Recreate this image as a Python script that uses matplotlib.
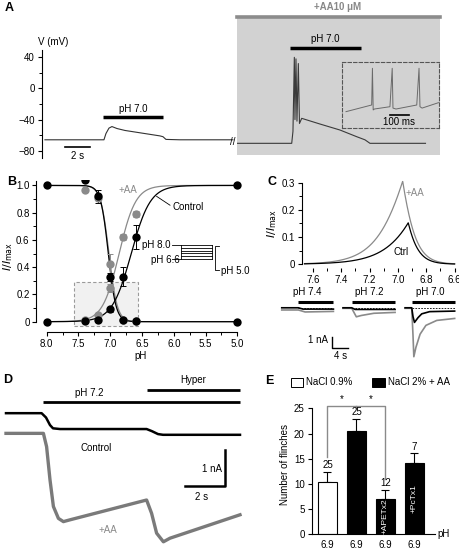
import numpy as np
import matplotlib
matplotlib.use("Agg")
import matplotlib.pyplot as plt
from matplotlib.patches import Rectangle

plt.rcParams['font.family'] = ['Liberation Sans', 'DejaVu Sans']
plt.rcParams['font.size'] = 7
plt.rcParams['axes.linewidth'] = 0.8
plt.rcParams['xtick.major.width'] = 0.8
plt.rcParams['ytick.major.width'] = 0.8
plt.rcParams['xtick.minor.width'] = 0.7
plt.rcParams['ytick.minor.width'] = 0.7
plt.rcParams['xtick.major.size'] = 3
plt.rcParams['ytick.major.size'] = 3
plt.rcParams['xtick.minor.size'] = 2
plt.rcParams['ytick.minor.size'] = 2
plt.rcParams['xtick.major.pad'] = 2
plt.rcParams['ytick.major.pad'] = 2

GRAY = '#8a8a8a'

# ---------------- data ----------------
# A: membrane potential (s, mV)
a_ctrl_t = [0.26, 4.98, 5.14, 5.38, 5.62, 6.02, 6.66, 7.86, 9.06, 9.46, 9.7, 9.94, 11.06, 15.3]
a_ctrl_v = [-66, -66, -58, -51, -49, -51.5, -54, -57, -60, -61, -62, -65.5, -66, -66]
a_aa_t = [0, 4.4, 4.5, 4.61, 4.66, 4.74, 4.82, 4.93, 5.02, 5.2, 6.66, 8.26, 9.6, 10.26, 10.66, 15.1]
a_aa_v = [-70.5, -70.5, -55, 40, -40, 38, -42, 32, -45, -38.4, -45.7, -53.4, -62, -66, -70.5, -70.5]
a_ins_t = [21, 156, 160, 164, 170, 252, 264, 268, 284, 393, 405, 410, 421, 507]   # ms
a_ins_v = [-63.7, -49.3, 30, -60, -58, -53, 30, -56, -58, -49.3, 30, -53, -56, -44.3]

# B: pH dependence of activation / steady-state desensitization
b_ph = [8.0, 7.4, 7.2, 7.0, 6.8, 6.6, 5.0]
b_ctrl_act = [0.0, 0.005, 0.015, 0.09, 0.33, 0.62, 1.0]
b_ctrl_act_err = [0, 0, 0, 0.02, 0.07, 0.09, 0]
b_ctrl_inact = [1.0, 1.04, 0.92, 0.33, 0.01, 0.005, 0.0]
b_ctrl_inact_err = [0, 0, 0.05, 0.03, 0, 0, 0]
b_aa_ph = [7.4, 7.2, 7.0, 6.8, 6.6]
b_aa_act = [0.01, 0.05, 0.25, 0.62, 0.79]
b_aa_act_err = [0, 0, 0.03, 0.02, 0.02]
b_aa_inact = [0.97, 0.91, 0.42, 0.01, 0.005]
b_aa_inact_err = [0, 0.02, 0.08, 0, 0]
# Boltzmann fit parameters (pH50, slope)
fit_ctrl_act = (6.67, 0.15)
fit_ctrl_inact = (7.03, 0.06)
fit_aa_act = (6.86, 0.13)
fit_aa_inact = (7.02, 0.065)
prot_levels = [8.0, 7.8, 7.6, 7.4, 7.2, 7.0, 6.6]

# C: current traces (s, nA)
c_labels = ['pH 7.4', 'pH 7.2', 'pH 7.0']
c_bar = [(4.9, 13.3), (17.7, 28.1), (32.1, 42.4)]
c_ctrl_t = [[0.9, 4.9, 6.0, 13.3],
            [15.6, 17.7, 18.5, 28.1],
            [30.5, 32.1, 32.4, 32.76, 33.6, 34.5, 36.4, 42.4]]
c_ctrl_i = [[0, 0, -0.12, -0.12],
            [0, 0, -0.15, -0.15],
            [0, 0, -0.8, -1.33, -0.9, -0.55, -0.35, -0.3]]
c_aa_t = [[0.9, 4.9, 6.5, 13.3],
          [15.6, 17.7, 18.8, 20.0, 23.0, 28.1],
          [30.5, 32.1, 32.4, 32.6, 33.1, 34.1, 35.5, 38.1, 42.4]]
c_aa_i = [[-0.2, -0.2, -0.38, -0.33],
          [-0.05, -0.05, -0.82, -0.7, -0.5, -0.42],
          [-0.05, -0.05, -2.5, -4.45, -3.6, -2.4, -1.6, -1.15, -0.97]]

# D: currents at pH 7.2 then hyperosmolar (s, nA)
d_ctrl_t = [0.3, 2.08, 2.3, 2.5, 2.65, 3.0, 7.33, 7.6, 7.9, 8.15, 12.0]
d_ctrl_i = [0, 0, -0.12, -0.33, -0.42, -0.44, -0.44, -0.5, -0.58, -0.6, -0.6]
d_aa_t = [0.3, 2.17, 2.33, 2.5, 2.67, 2.92, 3.17, 3.5, 7.33, 7.58, 7.83, 8.17, 8.5, 12.0]
d_aa_i = [-0.56, -0.56, -0.93, -1.85, -2.59, -2.92, -3.01, -2.96, -2.41, -2.78, -3.33, -3.57, -3.47, -2.82]

# E: number of flinches
e_mean = [10.3, 20.4, 7.1, 14.1]
e_sem = [2.1, 2.5, 1.7, 2.0]
e_n = ['25', '25', '12', '7']
e_colors = ['white', 'black', 'black', 'black']
e_inside = ['', '', '+APETx2', '+PcTx1']
e_ph = ['6.9', '6.9', '6.9', '6.9']

W, H = 460, 549
fig = plt.figure(figsize=(W / 100, H / 100), dpi=100)


def add_ax(x0, y0, x1, y1):
    return fig.add_axes([x0 / W, 1 - y1 / H, (x1 - x0) / W, (y1 - y0) / H])


def ftext(x, y, s, **kw):
    fig.text(x / W, 1 - y / H, s, **kw)


def act(ph, p):
    return 1 / (1 + np.exp((ph - p[0]) / p[1]))


def inact(ph, p):
    return 1 / (1 + np.exp((p[0] - ph) / p[1]))


for lab, x, y in [('A', 5, 8), ('B', 7, 182), ('C', 268, 182), ('D', 3, 380), ('E', 265, 381)]:
    ftext(x, y, lab, fontsize=9, fontweight='bold', ha='left', va='center')

# ---------------- A ----------------
axa = add_ax(41.7, 16.7, 236.7, 158)
axa.set_xlim(0, 15.6)
axa.set_ylim(-89.4, 92.2)
for s in ['top', 'right', 'bottom']:
    axa.spines[s].set_visible(False)
axa.spines['left'].set_bounds(-89.4, 49.4)
axa.set_xticks([])
axa.set_yticks([40, 0, -40, -80])
axa.set_yticks([20, -20, -60], minor=True)
axa.plot(a_ctrl_t, a_ctrl_v, color='#333333', lw=0.8)
axa.plot([4.9, 9.7], [-37, -37], color='black', lw=2.5, solid_capstyle='butt')
axa.text(7.3, -33, 'pH 7.0', ha='center', va='bottom')
axa.plot([1.86, 3.86], [-75.6, -75.6], color='black', lw=1.2)
axa.text(2.86, -80, '2 s', ha='center', va='top')
axa.text(0.9, 59.7, 'V (mV)', ha='center', va='center')
ftext(233, 142, '//', ha='center', va='center', fontsize=7)

axa2 = add_ax(236.7, 16.7, 440, 155)
axa2.set_facecolor('#d2d2d2')
axa2.set_xlim(0, 16.26)
axa2.set_ylim(-85.5, 92.2)
for s in ['left', 'right', 'bottom']:
    axa2.spines[s].set_visible(False)
axa2.spines['top'].set_color('#8c8c8c')
axa2.spines['top'].set_linewidth(2.6)
axa2.set_xticks([])
axa2.set_yticks([])
axa2.plot(a_aa_t, a_aa_v, color='#3a3a3a', lw=0.8)
axa2.plot([4.26, 9.92], [51.6, 51.6], color='black', lw=2.5, solid_capstyle='butt')
axa2.text(7.1, 57, 'pH 7.0', ha='center', va='bottom')
ftext(338, 7, '+AA10 \u03bcM', ha='center', va='center', color='#888888', fontweight='bold')

axin = add_ax(342, 62, 439, 128)
axin.set_facecolor('none')
for s in axin.spines.values():
    s.set_linestyle((0, (3, 2)))
    s.set_color('#555555')
    s.set_linewidth(0.8)
axin.set_xticks([])
axin.set_yticks([])
axin.set_xlim(0, 510)
axin.set_ylim(-99, 43.6)
axin.plot(a_ins_t, a_ins_v, color='#6a6a6a', lw=0.7)
axin.plot([252, 352], [-70.9, -70.9], color='black', lw=1.2)
axin.text(300, -76, '100 ms', ha='center', va='top')

# ---------------- B ----------------
axb = add_ax(36.5, 180, 245, 332.3)
axb.set_xlim(8.16, 4.88)
axb.set_ylim(-0.078, 1.04)
for s in ['top', 'right']:
    axb.spines[s].set_visible(False)
axb.spines['left'].set_bounds(-0.005, 1.03)
axb.spines['bottom'].set_bounds(8.0, 5.0)
axb.set_xticks(np.arange(8.0, 4.99, -0.5))
axb.set_xticklabels([f'{v:.1f}' for v in np.arange(8.0, 4.99, -0.5)])
axb.set_xticks(np.arange(8.0, 4.99, -0.25), minor=True)
axb.set_yticks([0, 0.2, 0.4, 0.6, 0.8, 1.0])
axb.set_yticklabels(['0', '0.2', '0.4', '0.6', '0.8', '1.0'])
axb.set_yticks(np.arange(0.1, 1.0, 0.2), minor=True)
axb.set_xlabel('pH', labelpad=1)
axb.set_ylabel(r'$I/I_{\rm max}$', fontsize=8)
axb.yaxis.set_label_coords(-0.105, 0.5)

axb.add_patch(Rectangle((7.57, -0.032), 6.56 - 7.57, 0.325, facecolor='#f1f1f1',
                        edgecolor='#9a9a9a', lw=0.8, ls=(0, (3, 2)), zorder=0))
ph_fit = np.linspace(8.0, 5.0, 400)
axb.plot(ph_fit, act(ph_fit, fit_aa_act), color=GRAY, lw=0.9)
axb.plot(ph_fit, inact(ph_fit, fit_aa_inact), color=GRAY, lw=0.9)
axb.plot(ph_fit, act(ph_fit, fit_ctrl_act), color='black', lw=0.9)
axb.plot(ph_fit, inact(ph_fit, fit_ctrl_inact), color='black', lw=0.9)
ek = dict(fmt='o', ms=6, capsize=2, elinewidth=0.7, capthick=0.7, mec='none')
axb.errorbar(b_aa_ph, b_aa_act, yerr=b_aa_act_err, color=GRAY, ecolor=GRAY, **ek)
axb.errorbar(b_aa_ph, b_aa_inact, yerr=b_aa_inact_err, color=GRAY, ecolor=GRAY, **ek)
axb.errorbar(b_ph, b_ctrl_act, yerr=b_ctrl_act_err, color='black', ecolor='black', **ek)
axb.errorbar(b_ph, b_ctrl_inact, yerr=b_ctrl_inact_err, color='black', ecolor='black', **ek)
axb.text(6.72, 0.97, '+AA', color=GRAY, ha='center', va='center')
axb.text(6.02, 0.845, 'Control', ha='left', va='center')
axb.plot([6.27, 6.06], [0.92, 0.855], color='black', lw=0.6)

# voltage protocol inset
top_y, bot_y = 0.563, 0.46
lev_y = np.linspace(top_y, bot_y, len(prot_levels) - 1)
for i, y in enumerate(lev_y):
    x0 = 6.03 if i in (0, len(lev_y) - 1) else 5.885
    axb.plot([x0, 5.40], [y, y], color='black', lw=0.6)
axb.plot([5.885, 5.885], [top_y, bot_y], color='black', lw=0.6)
axb.plot([5.40, 5.40], [top_y, bot_y], color='black', lw=0.6)
axb.plot([5.29, 5.35, 5.35, 5.29], [0.558, 0.558, 0.38, 0.38], color='black', lw=0.6)
axb.text(6.05, top_y, f'pH {prot_levels[0]:.1f}', ha='right', va='center')
axb.text(5.90, bot_y - 0.01, f'pH {prot_levels[-1]:.1f}', ha='right', va='center')
axb.text(5.26, 0.37, 'pH 5.0', ha='left', va='center')

# ---------------- C ----------------
axc = add_ax(301.7, 180, 456, 268)
axc.set_xlim(7.68, 6.59)
axc.set_ylim(-0.014, 0.31)
for s in ['top', 'right']:
    axc.spines[s].set_visible(False)
axc.spines['left'].set_bounds(0, 0.3)
axc.spines['bottom'].set_visible(False)
axc.set_yticks([0, 0.1, 0.2, 0.3])
axc.set_yticklabels(['0', '0.1', '0.2', '0.3'])
axc.set_yticks([0.05, 0.15, 0.25], minor=True)
axc.set_xticks(np.arange(7.6, 6.59, -0.2))
axc.set_xticklabels([f'{v:.1f}' for v in np.arange(7.6, 6.59, -0.2)])
axc.set_xticks(np.arange(7.6, 6.59, -0.1), minor=True)
axc.set_ylabel(r'$I/I_{\rm max}$', labelpad=2, fontsize=8)
ph_c = np.linspace(7.66, 6.6, 600)
axc.plot(ph_c, np.minimum(act(ph_c, fit_aa_act), inact(ph_c, fit_aa_inact)), color=GRAY, lw=0.9)
axc.plot(ph_c, np.minimum(act(ph_c, fit_ctrl_act), inact(ph_c, fit_ctrl_inact)), color='black', lw=0.9)
axc.text(6.88, 0.262, '+AA', color=GRAY, ha='center', va='center')
axc.text(6.98, 0.046, 'Ctrl', ha='center', va='center')

axc2 = add_ax(278, 288, 458, 360)
axc2.set_xlim(0, 43.2)
axc2.set_ylim(-4.75, 1.8)
axc2.axis('off')
for k in range(3):
    b0, b1 = c_bar[k]
    p0 = c_ctrl_t[k][0]
    axc2.plot([b0, b1], [0.55, 0.55], color='black', lw=2.2, solid_capstyle='butt')
    axc2.text((p0 + b1) / 2, 0.95, c_labels[k], ha='center', va='bottom')
    axc2.plot([b0, b1], [0, 0], color='black', lw=0.6, ls=(0, (2, 1.5)))
    axc2.plot(c_aa_t[k], c_aa_i[k], color=GRAY, lw=1.2)
    axc2.plot(c_ctrl_t[k], c_ctrl_i[k], color='black', lw=1.2)
axc2.plot([12.9, 12.9, 16.9], [-2.64, -3.64, -3.64], color='black', lw=1.0)
axc2.text(11.9, -2.94, '1 nA', ha='right', va='center')
axc2.text(14.9, -3.95, '4 s', ha='center', va='top')

# ---------------- D ----------------
axd = add_ax(0, 375, 245, 549)
axd.set_xlim(0, 12.25)
axd.set_ylim(-3.77, 1.06)
axd.axis('off')
axd.plot(d_aa_t, d_aa_i, color='#7a7a7a', lw=2.4)
axd.plot(d_ctrl_t, d_ctrl_i, color='black', lw=1.8)
axd.plot([2.17, 12.0], [0.31, 0.31], color='black', lw=2.0, solid_capstyle='butt')
axd.plot([7.33, 12.0], [0.65, 0.65], color='black', lw=2.0, solid_capstyle='butt')
axd.text(4.45, 0.42, 'pH 7.2', ha='center', va='bottom')
axd.text(9.65, 0.78, 'Hyper', ha='center', va='bottom')
axd.text(4.83, -0.96, 'Control', ha='center', va='center')
axd.text(5.4, -3.24, '+AA', color=GRAY, ha='center', va='center')
axd.plot([9.25, 11.27, 11.27], [-2.02, -2.02, -1.02], color='black', lw=1.8)
axd.text(11.1, -1.55, '1 nA', ha='right', va='center')
axd.text(10.08, -2.18, '2 s', ha='center', va='top')

# ---------------- E ----------------
axe = add_ax(311.7, 395, 435, 534.3)
axe.set_xlim(-0.545, 3.71)
axe.set_ylim(0, 27.64)
for s in ['top', 'right']:
    axe.spines[s].set_visible(False)
axe.spines['left'].set_bounds(0, 25)
xpos = np.arange(len(e_mean))
axe.bar(xpos, e_mean, width=0.65, color=e_colors, edgecolor='black', lw=0.8, zorder=2)
axe.errorbar(xpos, e_mean, yerr=[[0] * 4, e_sem], fmt='none', ecolor='black',
             elinewidth=0.8, capsize=3, capthick=0.8, zorder=1)
for i in range(len(e_mean)):
    axe.text(xpos[i], e_mean[i] + e_sem[i] + 0.3, e_n[i], ha='center', va='bottom')
    if e_inside[i]:
        axe.text(xpos[i], e_mean[i] / 2 + 0.1, e_inside[i], color='white', rotation=90,
                 ha='center', va='center', fontsize=6)
axe.set_yticks([0, 5, 10, 15, 20, 25])
axe.set_xticks(xpos)
axe.set_xticklabels(e_ph)
axe.tick_params(axis='x', length=0, pad=4)
axe.set_ylabel('Number of flinches', labelpad=3)
axe.text(3.78, 0, 'pH', ha='left', va='center', clip_on=False)
br_y = 25.5
axe.plot([0, 0, 2, 2], [15.3, br_y, br_y, 11.0], color=GRAY, lw=1.0, clip_on=False)
axe.plot([1, 1], [br_y, 25.0], color=GRAY, lw=1.0)
axe.text(0.5, br_y + 0.3, '*', ha='center', va='bottom')
axe.text(1.5, br_y + 0.3, '*', ha='center', va='bottom')

# legend
fig.add_artist(Rectangle((291 / W, 1 - 387 / H), 12 / W, 9 / H, transform=fig.transFigure,
                         facecolor='white', edgecolor='black', lw=0.7))
ftext(306, 382, 'NaCl 0.9%', ha='left', va='center')
fig.add_artist(Rectangle((372 / W, 1 - 387 / H), 13 / W, 9 / H, transform=fig.transFigure,
                         facecolor='black', edgecolor='black', lw=0.7))
ftext(388, 382, 'NaCl 2% + AA', ha='left', va='center')

fig.savefig('out.png', dpi=100)
